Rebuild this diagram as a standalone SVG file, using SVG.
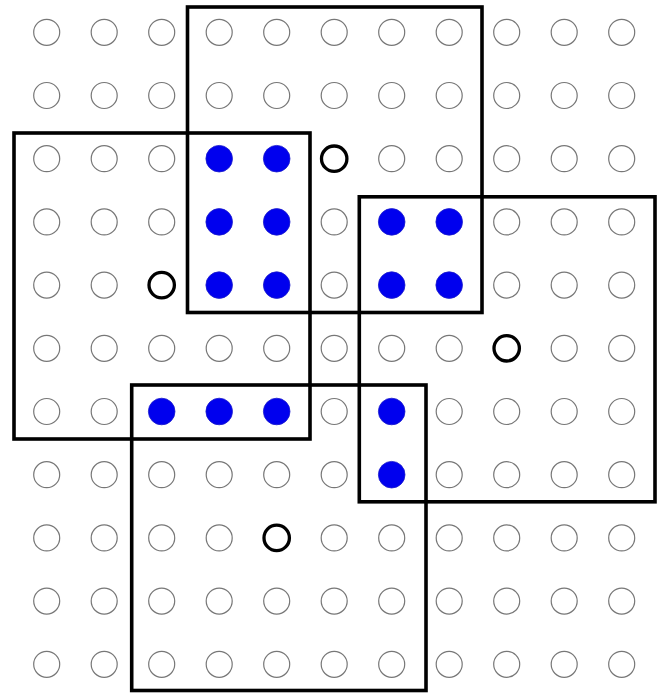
<svg xmlns="http://www.w3.org/2000/svg" width="660" height="694" viewBox="0 0 660 694">
<style>
.g{fill:none;stroke:#777;stroke-width:1.2}
.b{fill:#0000ee;stroke:#1a1acc;stroke-width:0.8}
.k{fill:none;stroke:#000;stroke-width:3.3}
.r{fill:none;stroke:#000;stroke-width:3.6}
</style>
<rect width="660" height="694" fill="#fff"/>
<g id="row0" transform="translate(0,32.3)">
<circle class="g" cx="46.7" cy="0" r="13"/><circle class="g" cx="104.2" cy="0" r="13"/><circle class="g" cx="161.7" cy="0" r="13"/><circle class="g" cx="219.2" cy="0" r="13"/><circle class="g" cx="276.7" cy="0" r="13"/><circle class="g" cx="334.2" cy="0" r="13"/><circle class="g" cx="391.7" cy="0" r="13"/><circle class="g" cx="449.2" cy="0" r="13"/><circle class="g" cx="506.7" cy="0" r="13"/><circle class="g" cx="564.2" cy="0" r="13"/><circle class="g" cx="621.7" cy="0" r="13"/>
</g>
<g id="row1" transform="translate(0,95.5)">
<circle class="g" cx="46.7" cy="0" r="13"/><circle class="g" cx="104.2" cy="0" r="13"/><circle class="g" cx="161.7" cy="0" r="13"/><circle class="g" cx="219.2" cy="0" r="13"/><circle class="g" cx="276.7" cy="0" r="13"/><circle class="g" cx="334.2" cy="0" r="13"/><circle class="g" cx="391.7" cy="0" r="13"/><circle class="g" cx="449.2" cy="0" r="13"/><circle class="g" cx="506.7" cy="0" r="13"/><circle class="g" cx="564.2" cy="0" r="13"/><circle class="g" cx="621.7" cy="0" r="13"/>
</g>
<g id="row2" transform="translate(0,158.7)">
<circle class="g" cx="46.7" cy="0" r="13"/><circle class="g" cx="104.2" cy="0" r="13"/><circle class="g" cx="161.7" cy="0" r="13"/><circle class="b" cx="219.2" cy="0" r="13.3"/><circle class="b" cx="276.7" cy="0" r="13.3"/><circle class="k" cx="334.2" cy="0" r="12.7"/><circle class="g" cx="391.7" cy="0" r="13"/><circle class="g" cx="449.2" cy="0" r="13"/><circle class="g" cx="506.7" cy="0" r="13"/><circle class="g" cx="564.2" cy="0" r="13"/><circle class="g" cx="621.7" cy="0" r="13"/>
</g>
<g id="row3" transform="translate(0,221.9)">
<circle class="g" cx="46.7" cy="0" r="13"/><circle class="g" cx="104.2" cy="0" r="13"/><circle class="g" cx="161.7" cy="0" r="13"/><circle class="b" cx="219.2" cy="0" r="13.3"/><circle class="b" cx="276.7" cy="0" r="13.3"/><circle class="g" cx="334.2" cy="0" r="13"/><circle class="b" cx="391.7" cy="0" r="13.3"/><circle class="b" cx="449.2" cy="0" r="13.3"/><circle class="g" cx="506.7" cy="0" r="13"/><circle class="g" cx="564.2" cy="0" r="13"/><circle class="g" cx="621.7" cy="0" r="13"/>
</g>
<g id="row4" transform="translate(0,285.1)">
<circle class="g" cx="46.7" cy="0" r="13"/><circle class="g" cx="104.2" cy="0" r="13"/><circle class="k" cx="161.7" cy="0" r="12.7"/><circle class="b" cx="219.2" cy="0" r="13.3"/><circle class="b" cx="276.7" cy="0" r="13.3"/><circle class="g" cx="334.2" cy="0" r="13"/><circle class="b" cx="391.7" cy="0" r="13.3"/><circle class="b" cx="449.2" cy="0" r="13.3"/><circle class="g" cx="506.7" cy="0" r="13"/><circle class="g" cx="564.2" cy="0" r="13"/><circle class="g" cx="621.7" cy="0" r="13"/>
</g>
<g id="row5" transform="translate(0,348.3)">
<circle class="g" cx="46.7" cy="0" r="13"/><circle class="g" cx="104.2" cy="0" r="13"/><circle class="g" cx="161.7" cy="0" r="13"/><circle class="g" cx="219.2" cy="0" r="13"/><circle class="g" cx="276.7" cy="0" r="13"/><circle class="g" cx="334.2" cy="0" r="13"/><circle class="g" cx="391.7" cy="0" r="13"/><circle class="g" cx="449.2" cy="0" r="13"/><circle class="k" cx="506.7" cy="0" r="12.7"/><circle class="g" cx="564.2" cy="0" r="13"/><circle class="g" cx="621.7" cy="0" r="13"/>
</g>
<g id="row6" transform="translate(0,411.5)">
<circle class="g" cx="46.7" cy="0" r="13"/><circle class="g" cx="104.2" cy="0" r="13"/><circle class="b" cx="161.7" cy="0" r="13.3"/><circle class="b" cx="219.2" cy="0" r="13.3"/><circle class="b" cx="276.7" cy="0" r="13.3"/><circle class="g" cx="334.2" cy="0" r="13"/><circle class="b" cx="391.7" cy="0" r="13.3"/><circle class="g" cx="449.2" cy="0" r="13"/><circle class="g" cx="506.7" cy="0" r="13"/><circle class="g" cx="564.2" cy="0" r="13"/><circle class="g" cx="621.7" cy="0" r="13"/>
</g>
<g id="row7" transform="translate(0,474.7)">
<circle class="g" cx="46.7" cy="0" r="13"/><circle class="g" cx="104.2" cy="0" r="13"/><circle class="g" cx="161.7" cy="0" r="13"/><circle class="g" cx="219.2" cy="0" r="13"/><circle class="g" cx="276.7" cy="0" r="13"/><circle class="g" cx="334.2" cy="0" r="13"/><circle class="b" cx="391.7" cy="0" r="13.3"/><circle class="g" cx="449.2" cy="0" r="13"/><circle class="g" cx="506.7" cy="0" r="13"/><circle class="g" cx="564.2" cy="0" r="13"/><circle class="g" cx="621.7" cy="0" r="13"/>
</g>
<g id="row8" transform="translate(0,537.9)">
<circle class="g" cx="46.7" cy="0" r="13"/><circle class="g" cx="104.2" cy="0" r="13"/><circle class="g" cx="161.7" cy="0" r="13"/><circle class="g" cx="219.2" cy="0" r="13"/><circle class="k" cx="276.7" cy="0" r="12.7"/><circle class="g" cx="334.2" cy="0" r="13"/><circle class="g" cx="391.7" cy="0" r="13"/><circle class="g" cx="449.2" cy="0" r="13"/><circle class="g" cx="506.7" cy="0" r="13"/><circle class="g" cx="564.2" cy="0" r="13"/><circle class="g" cx="621.7" cy="0" r="13"/>
</g>
<g id="row9" transform="translate(0,601.1)">
<circle class="g" cx="46.7" cy="0" r="13"/><circle class="g" cx="104.2" cy="0" r="13"/><circle class="g" cx="161.7" cy="0" r="13"/><circle class="g" cx="219.2" cy="0" r="13"/><circle class="g" cx="276.7" cy="0" r="13"/><circle class="g" cx="334.2" cy="0" r="13"/><circle class="g" cx="391.7" cy="0" r="13"/><circle class="g" cx="449.2" cy="0" r="13"/><circle class="g" cx="506.7" cy="0" r="13"/><circle class="g" cx="564.2" cy="0" r="13"/><circle class="g" cx="621.7" cy="0" r="13"/>
</g>
<g id="row10" transform="translate(0,664.3)">
<circle class="g" cx="46.7" cy="0" r="13"/><circle class="g" cx="104.2" cy="0" r="13"/><circle class="g" cx="161.7" cy="0" r="13"/><circle class="g" cx="219.2" cy="0" r="13"/><circle class="g" cx="276.7" cy="0" r="13"/><circle class="g" cx="334.2" cy="0" r="13"/><circle class="g" cx="391.7" cy="0" r="13"/><circle class="g" cx="449.2" cy="0" r="13"/><circle class="g" cx="506.7" cy="0" r="13"/><circle class="g" cx="564.2" cy="0" r="13"/><circle class="g" cx="621.7" cy="0" r="13"/>
</g>
<g id="windows">
<rect id="win-top" class="r" x="187.5" y="7" width="294.5" height="305.5"/>
<rect id="win-left" class="r" x="14" y="133" width="296" height="306"/>
<rect id="win-right" class="r" x="359.3" y="196.8" width="295.7" height="305"/>
<rect id="win-bottom" class="r" x="131.7" y="385" width="294.3" height="305.5"/>
</g>
</svg>
